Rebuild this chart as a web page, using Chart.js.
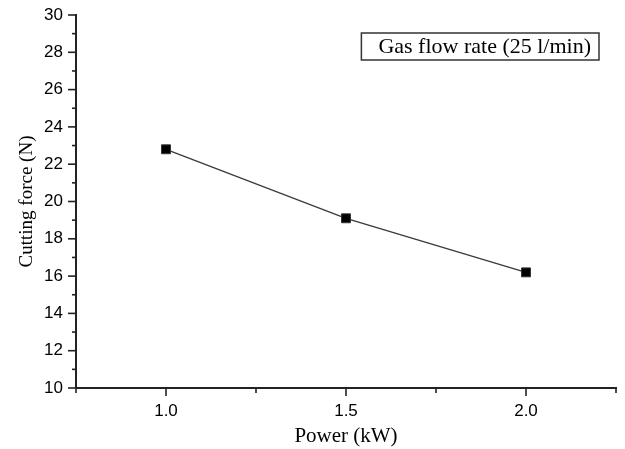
<!DOCTYPE html>
<html><head><meta charset="utf-8">
<script src="https://cdn.jsdelivr.net/npm/chart.js@4/dist/chart.umd.min.js"></script>
<style>html,body{margin:0;padding:0;background:#fff;}#wrap{width:625px;height:449px;}</style>
</head><body><div id="wrap"><canvas id="c" width="625" height="449"></canvas></div>
<script>
// ---- data ----
const powerKW = [1.0, 1.5, 2.0];
const cuttingForceN = [22.8, 19.1, 16.2];
const xTickLabels = ['1.0', '1.5', '2.0'];
const yTickLabels = ['10', '12', '14', '16', '18', '20', '22', '24', '26', '28', '30'];
const seriesLabel = 'Gas flow rate (25 l/min)';
const xTitle = 'Power (kW)';
const yTitle = 'Cutting force (N)';

const points = powerKW.map((x, i) => ({x: x, y: cuttingForceN[i]}));

function labelFor(list, v, digits) {
  const s = digits ? v.toFixed(digits) : String(Math.round(v));
  return list.includes(s) && Math.abs(parseFloat(s) - v) < 1e-6 ? s : '';
}

const tickMarks = {
  id: 'tickMarks',
  afterDraw(chart) {
    const ctx = chart.ctx;
    ctx.save();
    ctx.strokeStyle = '#222';
    ctx.lineWidth = 1.6;
    const xs = chart.scales.x, ys = chart.scales.y;
    xs.ticks.forEach(t => {
      const major = labelFor(xTickLabels, t.value, 1) !== '';
      const px = xs.getPixelForValue(t.value);
      ctx.beginPath();
      ctx.moveTo(px, xs.top);
      ctx.lineTo(px, xs.top + (major ? 8 : 5));
      ctx.stroke();
    });
    ys.ticks.forEach(t => {
      const major = labelFor(yTickLabels, t.value, 0) !== '';
      const py = ys.getPixelForValue(t.value);
      ctx.beginPath();
      ctx.moveTo(ys.right, py);
      ctx.lineTo(ys.right - (major ? 8 : 4), py);
      ctx.stroke();
    });
    ctx.restore();
  }
};

const boxedLegend = {
  id: 'boxedLegend',
  afterDraw(chart) {
    const ctx = chart.ctx;
    const ca = chart.chartArea;
    const text = chart.data.datasets[0].label;
    ctx.save();
    ctx.font = '22px "Liberation Serif", "Times New Roman", serif';
    const w = ctx.measureText(text).width;
    const right = ca.right - 17;
    const left = right - w - 25;
    const top = ca.top + 18;
    const h = 27;
    ctx.strokeStyle = '#333';
    ctx.lineWidth = 1.5;
    ctx.strokeRect(left, top, right - left, h);
    ctx.fillStyle = '#000';
    ctx.textBaseline = 'middle';
    ctx.fillText(text, left + 17, top + h / 2 + 1);
    ctx.restore();
  }
};

new Chart(document.getElementById('c'), {
  type: 'line',
  data: {
    datasets: [{
      label: seriesLabel,
      data: points,
      borderColor: '#3a3a3a',
      borderWidth: 1.3,
      pointStyle: 'rect',
      pointRadius: 6.3,
      pointBackgroundColor: '#000',
      pointBorderColor: '#333',
      pointBorderWidth: 1,
      tension: 0,
      fill: false
    }]
  },
  options: {
    responsive: false,
    devicePixelRatio: 1,
    animation: false,
    layout: {padding: {left: 0, top: 15, right: 9, bottom: 0}},
    plugins: {legend: {display: false}, tooltip: {enabled: false}},
    scales: {
      x: {
        type: 'linear', min: 0.75, max: 2.25,
        afterFit(s) { s.height = 61; s.paddingLeft = 0; s.paddingRight = 0; },
        grid: {display: false, drawTicks: false},
        border: {display: true, color: '#222', width: 2},
        ticks: {
          stepSize: 0.25, autoSkip: false, maxRotation: 0,
          padding: 13, color: '#000',
          font: {family: '"Liberation Sans", Arial, sans-serif', size: 17},
          callback: v => labelFor(xTickLabels, v, 1)
        },
        title: {display: true, text: xTitle, color: '#000',
          font: {family: '"Liberation Serif", "Times New Roman", serif', size: 21},
          padding: {top: 0, bottom: 0}}
      },
      y: {
        type: 'linear', min: 10, max: 30,
        afterFit(s) { s.width = 76; s.paddingTop = 0; s.paddingBottom = 0; },
        grid: {display: false, drawTicks: false},
        border: {display: true, color: '#222', width: 2},
        ticks: {
          stepSize: 1, autoSkip: false,
          padding: 13, color: '#000',
          font: {family: '"Liberation Sans", Arial, sans-serif', size: 17},
          callback: v => labelFor(yTickLabels, v, 0)
        },
        title: {display: true, text: yTitle, color: '#000',
          font: {family: '"Liberation Serif", "Times New Roman", serif', size: 19},
          padding: {top: 16, bottom: 0}}
      }
    }
  },
  plugins: [tickMarks, boxedLegend]
});
</script>
</body></html>
